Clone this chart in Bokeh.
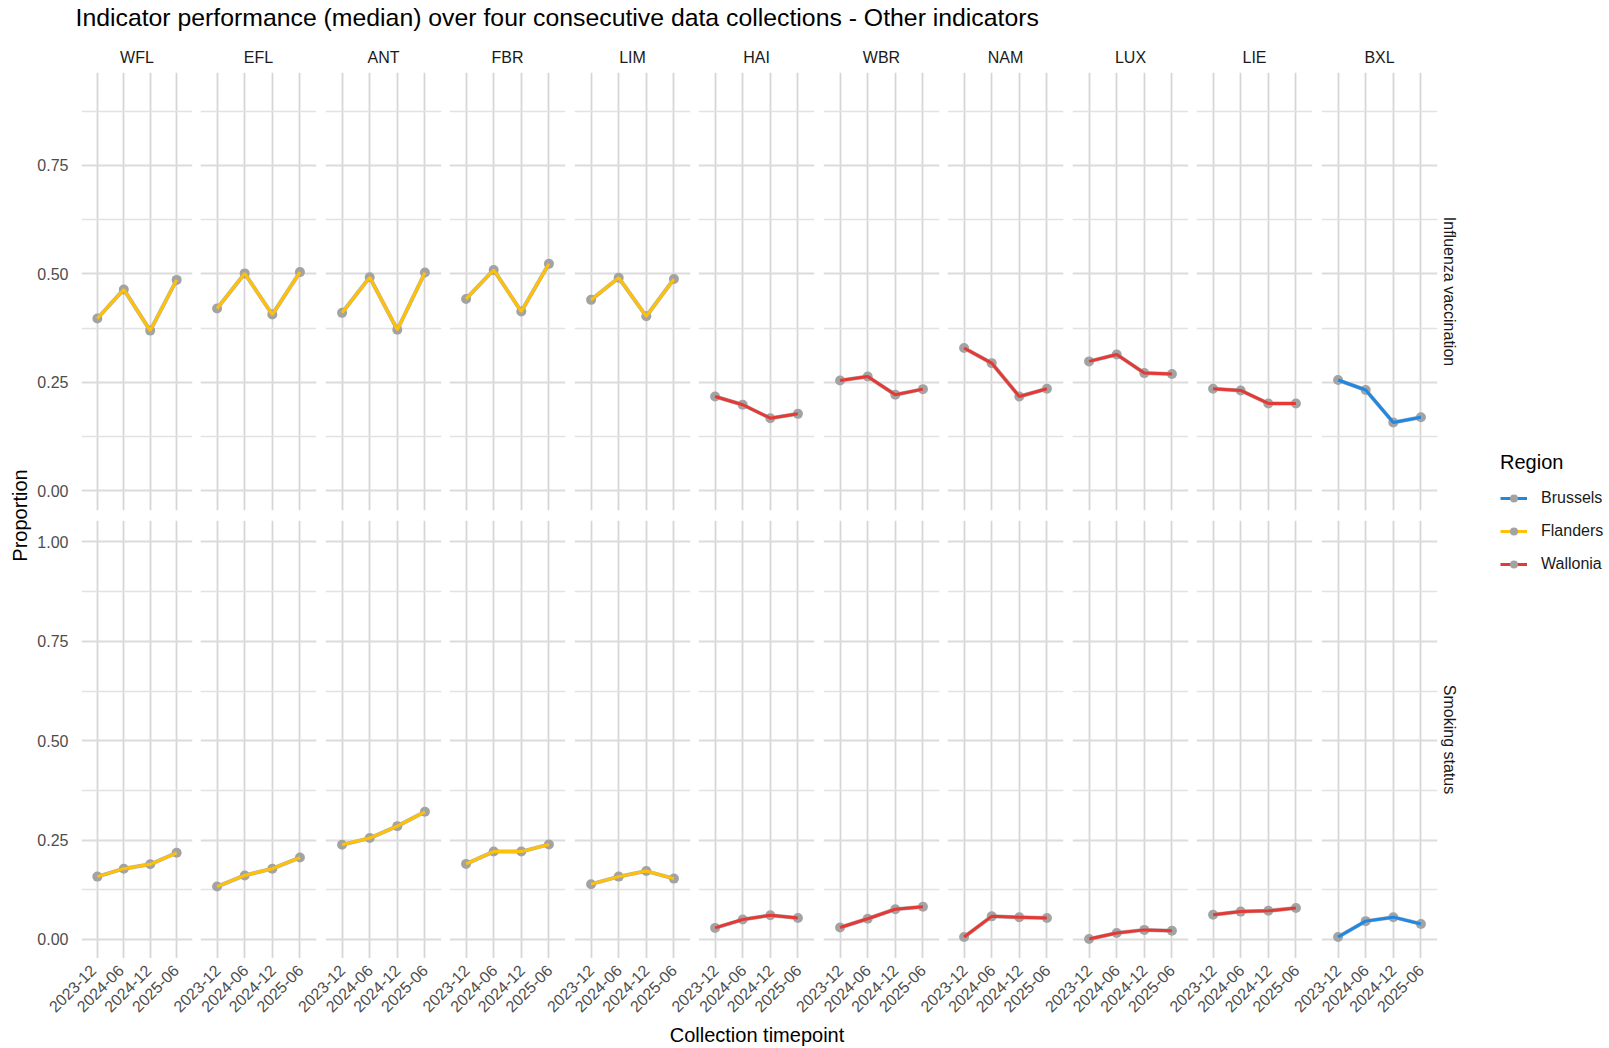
import math
from bokeh.plotting import figure
from bokeh.models import (FactorRange, Range1d, FixedTicker, NumeralTickFormatter,
                          Title, Legend, LegendItem, Label)
from bokeh.layouts import row, column
from bokeh.embed import file_html
from bokeh.resources import INLINE

# ---------------- data ----------------
periods = ["2023-12", "2024-06", "2024-12", "2025-06"]
provinces = ["WFL", "EFL", "ANT", "FBR", "LIM", "HAI", "WBR", "NAM", "LUX", "LIE", "BXL"]
province_region = ["Flanders", "Flanders", "Flanders", "Flanders", "Flanders",
                   "Wallonia", "Wallonia", "Wallonia", "Wallonia", "Wallonia", "Brussels"]
regions = ["Brussels", "Flanders", "Wallonia"]
region_colors = ["#1E88E5", "#FFC107", "#E53935"]
indicators = ["Influenza vaccination", "Smoking status"]
chart_title = "Indicator performance (median) over four consecutive data collections - Other indicators"

influenza_vaccination = [
    [0.397, 0.464, 0.369, 0.486],  # WFL
    [0.420, 0.501, 0.406, 0.504],  # EFL
    [0.410, 0.492, 0.371, 0.503],  # ANT
    [0.442, 0.509, 0.413, 0.523],  # FBR
    [0.440, 0.491, 0.402, 0.488],  # LIM
    [0.217, 0.198, 0.167, 0.177],  # HAI
    [0.254, 0.263, 0.221, 0.234],  # WBR
    [0.329, 0.294, 0.217, 0.235],  # NAM
    [0.298, 0.314, 0.271, 0.269],  # LUX
    [0.235, 0.231, 0.201, 0.201],  # LIE
    [0.255, 0.232, 0.157, 0.169],  # BXL
]
smoking_status = [
    [0.158, 0.178, 0.189, 0.218],  # WFL
    [0.133, 0.161, 0.178, 0.206],  # EFL
    [0.238, 0.255, 0.285, 0.321],  # ANT
    [0.190, 0.221, 0.221, 0.239],  # FBR
    [0.139, 0.158, 0.172, 0.153],  # LIM
    [0.029, 0.050, 0.061, 0.054],  # HAI
    [0.030, 0.052, 0.076, 0.082],  # WBR
    [0.006, 0.058, 0.056, 0.054],  # NAM
    [0.001, 0.016, 0.024, 0.022],  # LUX
    [0.062, 0.070, 0.072, 0.079],  # LIE
    [0.006, 0.046, 0.056, 0.039],  # BXL
]
row_data = [influenza_vaccination, smoking_status]

y_ticks = [[0, 0.25, 0.5, 0.75], [0, 0.25, 0.5, 0.75, 1.0]]
y_minor = [[0.125, 0.375, 0.625, 0.875], [0.125, 0.375, 0.625, 0.875]]
y_limits = [(-0.046, 0.9645), (-0.048, 1.054)]

# ---------------- styling / layout ----------------
FONT = "Liberation Sans"
NC = len(provinces)
FRAME_W, FRAME_H = 116, 438
LEFT0 = 42
RIGHT_LAST = 30
GRID_V = "#D6D6D6"
GRID_H = "#DCDCDC"
GRID_HMIN = "#E2E2E2"
GRAY = "#A3A3A3"
PT_SIZE = 10


def borders(ci):
    lb = LEFT0 if ci == 0 else 4
    rb = RIGHT_LAST if ci == NC - 1 else (4 if ci % 2 == 0 else 5)
    return lb, rb


def make_panel(ri, ci):
    lb, rb = borders(ci)
    tb = 32 if ri == 0 else 5
    bb = 5 if ri == 0 else 0
    kw = dict(title=provinces[ci]) if ri == 0 else dict(title=None)
    p = figure(width=lb + FRAME_W + rb, height=tb + FRAME_H + bb,
               x_range=FactorRange(*periods, range_padding=0.05),
               y_range=Range1d(*y_limits[ri]),
               output_backend="svg", toolbar_location=None,
               min_border_left=lb, min_border_right=rb,
               min_border_top=tb, min_border_bottom=bb,
               background_fill_color="white", border_fill_color="white",
               outline_line_color=None, **kw)
    if ri == 0:
        p.title.align = "center"
        p.title.text_font = FONT
        p.title.text_font_size = "16px"
        p.title.text_font_style = "normal"
        p.title.text_color = "#1A1A1A"
        p.title.standoff = 13

    tk = FixedTicker(ticks=y_ticks[ri], minor_ticks=y_minor[ri])
    p.yaxis.ticker = tk
    p.ygrid.ticker = tk
    if ci == 0:
        ax = p.yaxis[0]
        ax.formatter = NumeralTickFormatter(format="0.00")
        ax.axis_line_color = None
        ax.major_tick_line_color = None
        ax.minor_tick_line_color = None
        ax.major_tick_out = 0
        ax.major_tick_in = 0
        ax.major_label_standoff = 9
        ax.major_label_text_font = FONT
        ax.major_label_text_font_size = "16px"
        ax.major_label_text_color = "#4D4D4D"
    else:
        p.yaxis.visible = False
    p.xaxis.visible = False

    p.xgrid.grid_line_color = GRID_V
    p.xgrid.grid_line_width = 1.8
    p.ygrid.grid_line_color = GRID_H
    p.ygrid.grid_line_width = 1.8
    p.ygrid.minor_grid_line_color = GRID_HMIN
    p.ygrid.minor_grid_line_width = 1.6

    vals = row_data[ri][ci]
    col = region_colors[regions.index(province_region[ci])]
    p.line(x=periods, y=vals, line_color=GRAY, line_width=4.0, line_alpha=0.85)
    p.scatter(x=periods, y=vals, size=PT_SIZE, fill_color=GRAY, line_color=None)
    p.line(x=periods, y=vals, line_color=col, line_width=3.0)

    if ci == NC - 1:
        p.add_layout(Title(text=indicators[ri], align="center", text_font=FONT,
                           text_font_size="16px", text_font_style="normal",
                           text_color="#1A1A1A", standoff=6), "right")
    return p


top = [make_panel(0, c) for c in range(NC)]
bottom = [make_panel(1, c) for c in range(NC)]
row_w = sum(f.width for f in top)

# shared x-axis (tick labels) below the bottom row, aligned with panel frames
frame_lefts = []
acc = 0
for ci in range(NC):
    lb, rb = borders(ci)
    frame_lefts.append(acc + lb)
    acc += lb + FRAME_W + rb
unit = FRAME_W / 4.2
step = (frame_lefts[-1] - frame_lefts[0]) / (NC - 1)
gp = step / unit - 4
total_units = 4 * NC + (NC - 1) * gp
nested = [(pv, pd) for pv in provinces for pd in periods]
xf = figure(width=row_w, height=90,
            x_range=FactorRange(*nested, group_padding=gp, range_padding=0.2 / total_units),
            y_range=Range1d(0, 1), output_backend="svg", toolbar_location=None,
            min_border_left=LEFT0, min_border_right=RIGHT_LAST,
            min_border_top=0, min_border_bottom=89, title=None,
            outline_line_color=None, background_fill_color="white")
xf.yaxis.visible = False
xf.grid.visible = False
xa = xf.xaxis[0]
xa.major_label_orientation = math.pi / 4
xa.major_label_text_font = FONT
xa.major_label_text_font_size = "16px"
xa.major_label_text_color = "#4D4D4D"
xa.major_label_standoff = 2
xa.major_tick_line_color = None
xa.minor_tick_line_color = None
xa.axis_line_color = None
xa.group_text_font_size = "0px"
xa.group_text_color = None
xa.separator_line_color = None
xa.axis_label = "Collection timepoint"
xa.axis_label_text_font = FONT
xa.axis_label_text_font_size = "20px"
xa.axis_label_text_font_style = "normal"
xa.axis_label_text_color = "#000000"
xa.axis_label_standoff = 3

mid = column(row(*top), row(*bottom), xf)
mid_h = top[0].height + bottom[0].height + xf.height

# y label
yl = figure(width=34, height=mid_h, title="Proportion", title_location="left",
            x_axis_type=None, y_axis_type=None, output_backend="svg",
            toolbar_location=None, min_border_left=32, min_border_right=0,
            min_border_top=32, min_border_bottom=90, outline_line_color=None,
            x_range=Range1d(0, 1), y_range=Range1d(0, 1))
yl.title.align = "center"
yl.title.text_font = FONT
yl.title.text_font_size = "20px"
yl.title.text_font_style = "normal"
yl.title.text_color = "#000000"
yl.title.standoff = 4

# legend (proxy glyphs with a single NaN point, so that nothing is drawn in the frame)
nan = float("nan")
lf = figure(width=1609 - 34 - row_w, height=mid_h, x_axis_type=None, y_axis_type=None,
            output_backend="svg", toolbar_location=None, min_border=0,
            min_border_left=0, min_border_right=0, min_border_top=0, min_border_bottom=0,
            outline_line_color=None, title=None,
            x_range=Range1d(0, 1), y_range=Range1d(0, 1))
items = []
for reg, colr in zip(regions, region_colors):
    r1 = lf.line(x=[nan], y=[nan], line_color=colr, line_width=3.0)
    r2 = lf.scatter(x=[nan], y=[nan], size=PT_SIZE, fill_color=GRAY, line_color=None)
    items.append(LegendItem(label=reg, renderers=[r1, r2]))
leg = Legend(items=items, location=(33, 384), title="Region",
             title_text_font=FONT, title_text_font_size="20px", title_text_font_style="normal",
             title_text_color="#000000", title_standoff=14,
             label_text_font=FONT, label_text_font_size="16px", label_text_color="#1A1A1A",
             glyph_width=27, glyph_height=20, label_height=20, spacing=13,
             label_standoff=14, padding=0, margin=0,
             border_line_color=None, background_fill_alpha=0)
lf.add_layout(leg)

# main title, as a text annotation in a thin header figure
TF_H = 40
tf = figure(width=1609, height=TF_H, x_axis_type=None, y_axis_type=None,
            output_backend="svg", toolbar_location=None, title=None,
            min_border=0, min_border_left=0, min_border_right=0,
            min_border_top=0, min_border_bottom=0,
            outline_line_color=None, x_range=Range1d(0, 1), y_range=Range1d(0, 1))
tf.add_layout(Label(x=75, y=23.5, x_units="screen", y_units="screen",
                    text=chart_title, text_font=FONT, text_font_size="24.8px",
                    text_font_style="normal", text_color="#000000",
                    text_baseline="alphabetic", text_align="left"))

layout = column(tf, row(yl, mid, lf))
open("out.html", "w").write(file_html(layout, INLINE))
